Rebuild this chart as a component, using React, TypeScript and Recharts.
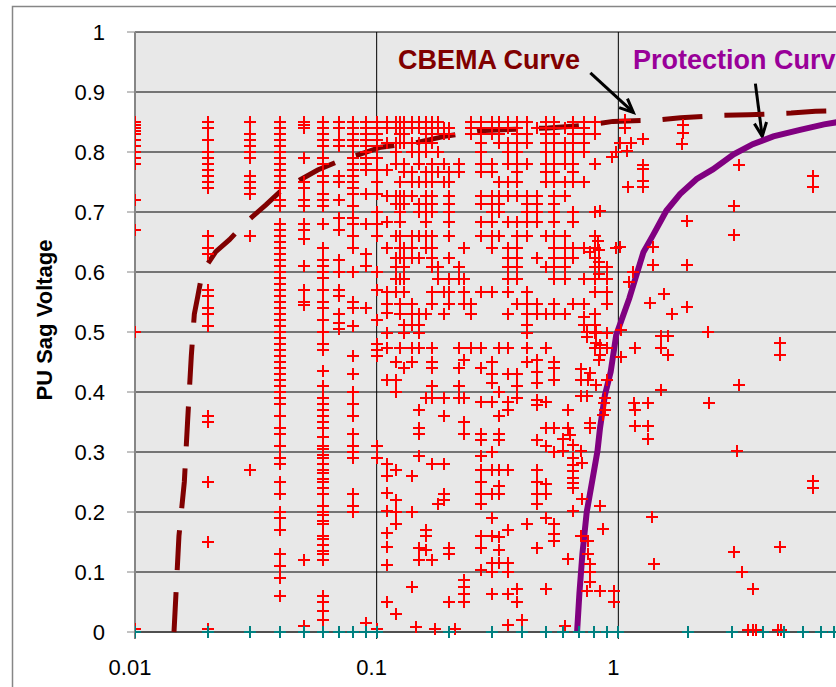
import React from "react";
import { ScatterChart, Scatter, XAxis, YAxis, CartesianGrid, ReferenceLine } from "recharts";

// Axis ticks (the 10 s end of the axis is cropped off in the picture)
const xTicks = [0.01, 0.1, 1];
const yTicks = [0, 0.1, 0.2, 0.3, 0.4, 0.5, 0.6, 0.7, 0.8, 0.9, 1];

// Sag events read column by column: duration (s) -> PU voltages (x100)
const shortDurations = [0.01, 0.02, 0.03, 0.04, 0.05, 0.06, 0.07, 0.08, 0.09, 0.1];
const shortVoltages = [
  [85, 84.5, 84, 83.5, 83, 82, 81, 80, 79, 78, 72, 67, 50],
  [85, 84, 82, 80, 79, 78, 77, 76, 75, 74, 66, 64, 63, 57, 56, 54, 53, 51, 36, 35, 25, 15],
  [85, 83, 82, 81, 80, 79, 76, 75, 74, 73, 66, 27],
  [85, 84, 83, 82, 81, 80, 79, 78, 77, 76, 75, 74, 72, 71, 68, 67, 66, 65, 64, 63, 62, 61, 60, 59, 58, 57, 56, 55, 54, 53, 52, 51, 50, 49, 48, 47, 46, 45, 44, 43, 42, 41, 40, 39, 38, 36, 34, 33, 31, 29, 28, 25, 23, 20, 19, 17, 13, 11, 9, 6],
  [85, 84.5, 84, 79, 75, 74, 72, 71, 68, 67, 65.5, 61, 57, 55, 54.5, 12],
  [85, 84, 83, 82, 81, 79, 78, 76, 75, 73, 72, 71, 68, 64, 62, 61, 60, 59, 57, 55, 54, 52, 50, 48, 47, 43.5, 41, 39, 38, 37, 36, 35, 34, 32.5, 31, 30.5, 29.5, 29, 28, 27, 26.5, 25.5, 25, 24, 23, 21, 20, 19.5, 18.5, 18, 16, 15.5, 14.5, 13.5, 13, 12, 6, 5, 3.5, 2],
  [85, 84, 82, 81, 76, 75, 72, 69, 67, 62, 60, 57, 56, 53, 51.5, 50.5],
  [85, 84, 83, 82, 81, 79, 78, 77, 76, 75, 74, 73, 71, 69, 68, 66, 64, 60, 55, 54, 51, 46, 43, 40, 38, 36, 33, 31, 30, 29, 23, 21, 20],
  [85, 84, 83, 82, 81, 80, 79, 78, 77, 73, 68, 63, 61, 54],
  [85, 84, 83, 82, 81, 79, 77, 75, 73, 70, 68, 66, 60, 57, 52, 48, 47, 46, 31, 29],
];

const midDurations = [0.11, 0.12, 0.125, 0.13, 0.14, 0.15, 0.16, 0.17, 0.18, 0.19, 0.2, 0.22, 0.23, 0.245, 0.27, 0.3, 0.32, 0.35, 0.38, 0.42, 0.46, 0.5, 0.54, 0.6, 0.65, 0.72, 0.8, 0.9, 0.98];
const midVoltages = [
  [85, 84, 81.5, 77, 72.7, 68.3, 64, 56.6, 54.7, 53.1, 49.8, 47.3, 42, 28, 26, 23.2, 20.2, 16.5, 14.1, 11.1, 5],
  [85, 84, 81.5, 80, 78, 72.7, 71.3, 66, 62.4, 60.8, 58.8, 56.6, 45, 42, 40, 27, 22, 20, 18, 3],
  [85, 84, 83, 81.5, 75, 72.7, 71.3, 70, 68.3, 66, 64, 62.4, 58.8, 54.7, 53, 47.3],
  [85, 84, 83, 81.5, 78, 76.6, 72.7, 71.3, 64, 62.4, 60.8, 58.8, 56.6, 51.2, 49.8, 44],
  [85, 84, 81.5, 80, 76.6, 75, 72.7, 66, 64, 62.4, 54.7, 53, 51.2, 47.3, 45, 26, 20, 7.5],
  [85, 84, 81.5, 80, 78, 75, 71.3, 70, 66, 62.4, 53, 51.2, 49.8, 47.3, 37, 34, 33, 29.3, 14, 12],
  [85, 84, 83, 81.5, 80, 76.6, 75, 72.7, 71.3, 70, 68.3, 66, 64, 53, 39, 17, 16, 13.6],
  [85, 84, 83, 81.5, 78, 76.6, 75, 72.7, 71.3, 70, 66, 64, 62.4, 60.8, 56.6, 54.7, 47.3, 45, 44, 41, 39, 28, 12],
  [85, 84, 80, 76.6, 60.8, 58.8, 21.3],
  [84, 83, 78, 75, 56.6, 53, 39, 36, 28, 23, 22],
  [84, 83, 76.6, 75, 72.7, 71.3, 70, 68.3, 66, 62.4, 58.8, 56.6, 54.7, 14, 13, 5],
  [78, 76.6, 60.8, 58.8, 47.3, 44, 41, 39],
  [64, 58.8, 56.6, 54.7, 45.4, 39, 35, 33, 8.6, 7.5, 6.4, 5],
  [85, 84, 83, 54.7, 53, 47.3],
  [85, 84, 83, 81.5, 80, 78, 76.6, 72.7, 71.3, 68.3, 66, 56.6, 47.3, 44, 38.4, 33, 32, 29.3, 27, 25, 23, 21.3, 16, 14, 10.4],
  [85, 84, 83, 78, 76.6, 72.7, 71.3, 70, 68.3, 66, 64, 56.6, 45, 43, 41.5, 38.4, 30, 27, 23, 19, 16, 11.5, 10, 6.4],
  [85, 84, 83, 81.5, 75, 72.7, 71.3, 70, 66, 47.3, 40, 36, 33, 32, 27, 24.3, 23, 15.8, 13.6, 11.5],
  [85, 84, 81.5, 80, 78, 75, 72.7, 68.3, 64, 62.4, 60.8, 58.8, 56.6, 53, 47.3, 43, 38.4, 37, 27, 17, 11.5, 10, 6.4],
  [85, 84, 83, 81.5, 80, 78, 76.6, 75, 72.7, 68.3, 66, 64, 62.4, 60.8, 58.8, 54.7, 43, 41, 39, 7.2, 5],
  [85, 83, 81.5, 78, 72.7, 71.3, 70, 68.3, 66, 56.6, 54.7, 53, 51.2, 49.8, 47.3, 45, 18],
  [84, 72.7, 71.3, 70, 68.3, 62.4, 54.7, 53, 45.4, 43.4, 41.5, 38.7, 37.9, 32, 27, 25, 23, 21.3, 14],
  [85, 84, 83, 81.5, 80, 78, 76.6, 75, 66, 60.8, 53, 47.3, 38.4, 34, 31, 24.6, 23, 19, 7.2],
  [85, 84, 83, 81.5, 80, 78, 76.6, 75, 72.7, 71.3, 70, 68.3, 66, 64, 62.4, 60.8, 58.8, 54.7, 53, 45, 44, 42, 34, 30, 18, 16.3, 15.2],
  [84, 81.5, 80, 78, 75, 72.7, 66, 64, 62.4, 60.8, 58.8, 53],
  [85, 84, 83, 81.5, 80, 78, 76.6, 75, 70, 68.3, 64, 62.4, 54.7],
  [85, 84, 83, 81.5, 80, 75, 64, 58.8, 54.7, 52.5, 51.2],
  [85, 83, 78, 70, 66, 64, 62.4, 60.8, 58.8, 56.6, 53, 51.2, 49.8, 47.3],
  [60.8, 58.8, 56.6, 54.7, 49.8, 47.3],
  [80, 64],
];

// Scattered sags around and past the protection curve: [duration s, PU]
const lateSags = [
  [1.07, 0.854], [1.07, 0.84], [1.02, 0.815], [1.13, 0.815], [1.27, 0.821], [1.09, 0.802], [0.94, 0.791],
  [1.86, 0.845], [1.86, 0.832], [1.84, 0.813], [1.27, 0.779], [1.27, 0.771], [1.27, 0.752], [1.27, 0.741],
  [1.1, 0.741], [3.15, 0.779], [6.4, 0.76], [6.4, 0.741], [3.0, 0.71], [0.84, 0.702], [1.92, 0.685],
  [3.0, 0.661], [1.02, 0.641], [1.39, 0.641], [1.39, 0.611], [1.92, 0.611], [0.82, 0.652], [0.83, 0.636],
  [0.83, 0.616], [0.83, 0.597], [0.76, 0.633], [1.15, 0.6], [1.11, 0.583], [1.54, 0.564], [1.35, 0.549],
  [1.92, 0.541], [1.67, 0.53], [2.36, 0.5], [1.03, 0.503], [1.5, 0.494], [1.6, 0.494],
  [0.74, 0.5], [0.81, 0.5], [0.74, 0.492], [0.81, 0.481], [0.84, 0.478], [0.84, 0.462], [0.83, 0.453],
  [1.03, 0.459], [1.17, 0.473], [1.5, 0.473], [1.6, 0.462], [4.67, 0.481], [4.67, 0.462],
  [0.7, 0.439], [0.76, 0.431], [0.7, 0.42], [0.75, 0.42], [0.81, 0.412], [0.9, 0.42], [3.15, 0.412],
  [1.5, 0.404], [0.7, 0.393], [0.74, 0.393], [0.88, 0.39], [0.87, 0.382], [1.16, 0.382], [1.33, 0.382],
  [2.38, 0.382], [0.62, 0.37], [0.88, 0.37], [1.17, 0.37], [0.86, 0.362], [0.76, 0.348], [0.76, 0.34],
  [0.62, 0.34], [1.17, 0.343], [1.33, 0.343], [1.33, 0.321], [0.63, 0.329], [0.59, 0.321], [0.65, 0.312],
  [0.7, 0.301], [0.59, 0.301], [0.65, 0.29], [0.71, 0.282], [0.65, 0.279], [0.65, 0.268], [0.65, 0.257],
  [0.65, 0.249], [0.65, 0.24], [3.1, 0.301], [6.4, 0.251], [6.4, 0.24], [0.71, 0.221], [0.65, 0.202],
  [0.84, 0.21], [1.38, 0.191], [0.86, 0.171], [0.7, 0.16], [0.75, 0.152], [0.75, 0.13], [0.62, 0.122],
  [1.4, 0.114], [3.0, 0.133], [4.67, 0.141], [0.76, 0.114], [0.76, 0.1], [3.25, 0.1], [0.76, 0.083],
  [0.74, 0.069], [0.84, 0.069], [0.96, 0.069], [0.96, 0.05], [3.6, 0.072],
];

// Red sags sitting on the zero line
const zeroSags = [
  [0.01, 0.005], [0.02, 0.005], [0.05, 0.01], [0.09, 0.015], [0.1, 0.005], [0.145, 0.008], [0.175, 0.005],
  [0.21, 0.005], [0.35, 0.012], [0.4, 0.02], [0.6, 0.01], [3.45, 0.003], [3.6, 0.003], [3.73, 0.003],
  [4.6, 0.003], [4.72, 0.003],
];

// Interruptions (teal) on the zero line
const interruptionDurations = [0.01, 0.02, 0.03, 0.04, 0.05, 0.06, 0.07, 0.08, 0.09, 0.1, 0.2, 0.3, 0.4, 0.5, 0.59, 0.69, 0.79, 0.9, 1, 1.94, 2.95, 3.95, 4.85, 5.8, 6.9, 7.8];

// CBEMA curve
const cbemaDuration = [0.0145, 0.0152, 0.016, 0.0165, 0.0171, 0.0176, 0.0182, 0.019, 0.0216, 0.0246, 0.0288, 0.0348, 0.0396, 0.0479, 0.057, 0.07, 0.085, 0.104, 0.143, 0.191, 0.28, 0.513, 0.75, 0.95, 1.42, 1.81, 2.71, 3.47, 5.19, 6.54, 10];
const cbemaVoltage = [0, 0.16, 0.25, 0.35, 0.46, 0.53, 0.56, 0.6, 0.634, 0.654, 0.683, 0.712, 0.733, 0.753, 0.77, 0.785, 0.796, 0.808, 0.815, 0.826, 0.836, 0.84, 0.845, 0.851, 0.853, 0.857, 0.861, 0.862, 0.865, 0.868, 0.87];

// Protection curve
const protectionDuration = [0.675, 0.69, 0.71, 0.74, 0.78, 0.82, 0.84, 0.88, 0.93, 0.98, 1.11, 1.27, 1.39, 1.58, 1.8, 2.11, 2.46, 3.0, 3.6, 4.38, 5.65, 7.1, 10];
const protectionVoltage = [0, 0.064, 0.13, 0.2, 0.252, 0.302, 0.34, 0.395, 0.434, 0.495, 0.556, 0.633, 0.661, 0.702, 0.73, 0.755, 0.771, 0.796, 0.813, 0.826, 0.837, 0.846, 0.856];

// Label arrows (from text to curve)
const cbemaArrow = [[0.766, 0.932], [1.154, 0.866]];
const protectionArrow = [[3.69, 0.914], [3.94, 0.826]];

const FONT = "Arial, 'Liberation Sans', sans-serif";

const sagPoints = [
  ...shortDurations.flatMap((x, i) => shortVoltages[i].map((v) => ({ x, y: v / 100 }))),
  ...midDurations.flatMap((x, i) => midVoltages[i].map((v) => ({ x, y: v / 100 }))),
  ...lateSags.map(([x, y]) => ({ x, y })),
  ...zeroSags.map(([x, y]) => ({ x, y })),
];
const interruptionPoints = interruptionDurations.map((x) => ({ x, y: 0 }));
const cbemaPoints = cbemaDuration.map((x, i) => ({ x, y: cbemaVoltage[i] }));
const protectionPoints = protectionDuration.map((x, i) => ({ x, y: protectionVoltage[i] }));

// "+" marker, snapped to whole pixels so the 2px arms stay crisp
const cross = (color: string) => (props: any) => {
  const { cx, cy } = props;
  if (cx == null || cy == null) return <g />;
  const x = Math.round(cx);
  const y = Math.round(cy);
  return (
    <path
      d={`M${x - 6},${y}h12M${x},${y - 6}v12`}
      stroke={color}
      strokeWidth={2}
      fill="none"
    />
  );
};

const noDot = () => <g />;

const Arrow = (props: any) => {
  const { x1, y1, x2, y2 } = props;
  const a = Math.atan2(y2 - y1, x2 - x1);
  const len = 15;
  const spread = 0.42;
  const ax = x2 - len * Math.cos(a - spread);
  const ay = y2 - len * Math.sin(a - spread);
  const bx = x2 - len * Math.cos(a + spread);
  const by = y2 - len * Math.sin(a + spread);
  return (
    <g>
      <line x1={x1} y1={y1} x2={x2} y2={y2} stroke="#000" strokeWidth={3} />
      <polyline points={`${ax},${ay} ${x2},${y2} ${bx},${by}`} fill="none" stroke="#000" strokeWidth={3} />
    </g>
  );
};

const App = () => {
  return (
    <div style={{ position: "absolute", left: 0, top: 0, width: 836, height: 687, overflow: "hidden", background: "#fff" }}>
      <ScatterChart width={880} height={687} margin={{ top: 32, right: 20, bottom: 0, left: 0 }}>
        <CartesianGrid stroke="#000" strokeWidth={1} fill="#E8E8E8" fillOpacity={1} verticalValues={[0.1, 1]} />
        <XAxis
          type="number"
          dataKey="x"
          scale="log"
          domain={[0.01, 10]}
          ticks={xTicks}
          allowDataOverflow
          height={55}
          tickSize={7}
          tickMargin={20}
          stroke="#404040"
          axisLine={{ stroke: "#505050", strokeWidth: 2 }}
          tickLine={{ stroke: "#000" }}
          tick={{ fontSize: 22, fill: "#000", fontFamily: FONT, dx: -5 }}
          tickFormatter={(v: number) => String(v)}
        />
        <YAxis
          type="number"
          dataKey="y"
          domain={[0, 1]}
          ticks={yTicks}
          interval={0}
          width={135}
          tickSize={8}
          tickMargin={22}
          axisLine={{ stroke: "#868686", strokeWidth: 2 }}
          tickLine={{ stroke: "#868686" }}
          tick={{ fontSize: 22, fill: "#000", fontFamily: FONT }}
          tickFormatter={(v: number) => String(Math.round(v * 10) / 10)}
        />
        <Scatter
          data={cbemaPoints}
          line={{ stroke: "#800000", strokeWidth: 5, strokeDasharray: "40 22" }}
          shape={noDot}
          legendType="none"
          isAnimationActive={false}
        />
        <Scatter
          data={protectionPoints}
          line={{ stroke: "#800080", strokeWidth: 6 }}
          shape={noDot}
          legendType="none"
          isAnimationActive={false}
        />
        <Scatter data={sagPoints} shape={cross("#FF0000")} isAnimationActive={false} />
        <Scatter data={interruptionPoints} shape={cross("#008080")} isAnimationActive={false} />
        <ReferenceLine
          segment={cbemaArrow.map(([x, y]) => ({ x, y }))}
          shape={Arrow}
          ifOverflow="visible"
        />
        <ReferenceLine
          segment={protectionArrow.map(([x, y]) => ({ x, y }))}
          shape={Arrow}
          ifOverflow="visible"
        />
      </ScatterChart>
      <svg
        width={836}
        height={687}
        style={{ position: "absolute", left: 0, top: 0, pointerEvents: "none" }}
      >
        <rect x={12.5} y={6.5} width={900} height={900} fill="none" stroke="#868686" strokeWidth={1.5} />
        <text x={398} y={69} fontFamily={FONT} fontWeight="bold" fontSize={27} fill="#800000">
          CBEMA Curve
        </text>
        <text x={633} y={69} fontFamily={FONT} fontWeight="bold" fontSize={27} fill="#990099">
          Protection Curve
        </text>
        <text
          x={52}
          y={320}
          transform="rotate(-90 52 320)"
          textAnchor="middle"
          fontFamily={FONT}
          fontWeight="bold"
          fontSize={22}
          fill="#000"
        >
          PU Sag Voltage
        </text>
      </svg>
    </div>
  );
};

export default App;
